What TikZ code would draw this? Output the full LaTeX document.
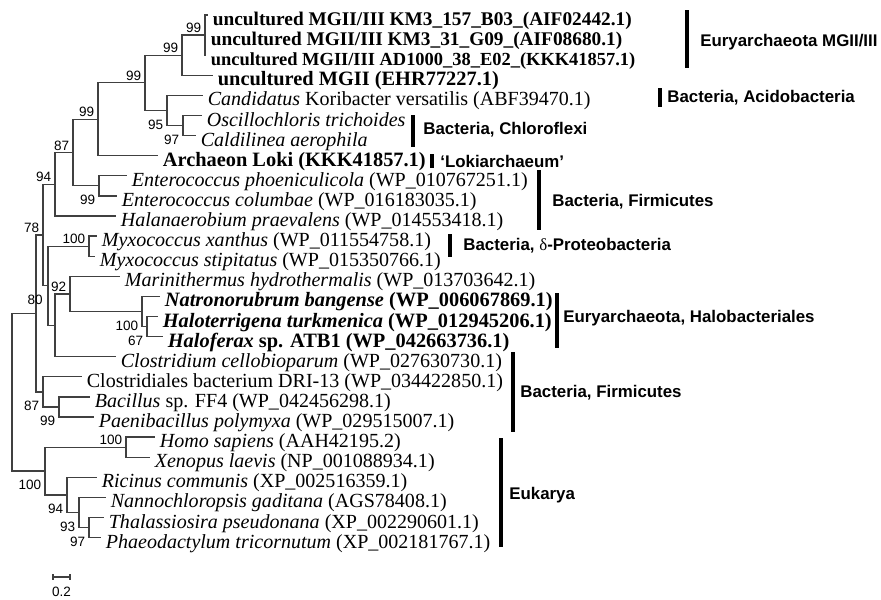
\documentclass[tikz,border=0pt]{standalone}
\usepackage{fontspec}
\setmainfont{Liberation Serif}
\setsansfont{Liberation Sans}

\tikzset{
  branch/.style={draw=black!75, line width=0.7pt},
  leaf/.style={anchor=base west, inner sep=0pt, xshift=0.09cm, yshift=-0.21cm, font=\fontsize{11.4}{13}\selectfont},
  bleaf/.style={leaf, font=\fontsize{11.6}{13}\selectfont\bfseries},
  num/.style={inner sep=0pt, font=\sffamily\fontsize{7.7}{9}\selectfont},
  bsa/.style={num, anchor=south east, xshift=-0.07cm, yshift=0.04cm},
  bsb/.style={num, anchor=north east, xshift=-0.07cm, yshift=-0.18cm},
  group/.style={anchor=west, inner sep=0pt, font=\sffamily\bfseries\fontsize{9.6}{11}\selectfont},
  bar/.style={line width=2pt}
}

\begin{document}
\begin{tikzpicture}[x=0.02cm, y=-0.02cm]
    \path[fill=white] (0,0) rectangle (881,599);
    \useasboundingbox (0,0) rectangle (881,599);
    \foreach \i/\x in {1/208, 2/206, 3/206, 4/213, 5/203, 6/202, 7/196, 8/158, 9/127, 10/117, 11/116, 12/97, 13/95, 14/120, 15/160, 16/158, 17/163, 18/116, 19/82, 20/90, 21/94, 22/155, 23/150, 24/97, 25/106, 26/104, 27/101} {\coordinate (t\i) at (\x,{15+(\i-1)*20.1});}
    \foreach \n/\x/\y in {n1/205/35.1, n2/182/55.2, n3/145/82.85, n4/167/110.5, n5/183/125.55, n6/98/119.3, n7/73/152.6, n8/99/185.85, n9/55/184.3, n10/43/235, n11/48/285.7, n12/89/246.15, n13/55/325.3, n14/70/293.9, n15/142/311.5, n16/147/326.55, n17/36/313.45, n18/43/391.9, n19/59/406.95, n20/12/392.2, n21/45/471, n22/126/447.15, n23/67/494.9, n24/79/512.5, n25/89/527.55} {\coordinate (\n) at (\x,\y);}
    \foreach \p/\c in {n1/t1, n1/t2, n1/t3, n2/n1, n2/t4, n3/n2, n3/n4, n4/t5, n4/n5, n5/t6, n5/t7, n6/n3, n6/t8, n7/n6, n7/n8, n8/t9, n8/t10, n9/n7, n9/t11, n10/n9, n10/n11, n11/n12, n11/n13, n12/t12, n12/t13, n13/n14, n13/t18, n14/t14, n14/n15, n15/t15, n15/n16, n16/t16, n16/t17, n17/n10, n17/n18, n18/t19, n18/n19, n19/t20, n19/t21, n20/n17, n20/n21, n21/n22, n21/n23, n22/t22, n22/t23, n23/t24, n23/n24, n24/t25, n24/n25, n25/t26, n25/t27} {\draw[branch] (\p) |- (\c);}
    \foreach \n/\v in {n1/99, n2/99, n3/99, n6/99, n7/87, n9/94, n10/78, n12/100, n14/92, n22/100} {\node[bsa] (b\n) at (\n) {\v};}
    \foreach \n/\v in {n4/95, n5/97, n8/99, n15/100, n16/67, n18/87, n19/99, n21/100, n23/94, n24/93, n25/97} {\node[bsb] (b\n) at (\n) {\v};}
    \node[num, anchor=south east] (bn17) at ([xshift=0.14cm, yshift=0.16cm]n17) {80};
    \node[bleaf, font=\fontsize{11}{13}\selectfont\bfseries] (l1) at (t1) {uncultured MGII/III KM3\_157\_B03\_(AIF02442.1)};
    \node[bleaf, font=\fontsize{11}{13}\selectfont\bfseries] (l2) at (t2) {uncultured MGII/III KM3\_31\_G09\_(AIF08680.1)};
    \node[bleaf, font=\fontsize{10.5}{13}\selectfont\bfseries] (l3) at (t3) {uncultured MGII/III AD1000\_38\_E02\_(KKK41857.1)};
    \node[bleaf] (l4) at (t4) {uncultured MGII (EHR77227.1)};
    \node[leaf] (l5) at (t5) {\textit{Candidatus} Koribacter versatilis (ABF39470.1)};
    \node[leaf] (l6) at (t6) {\textit{Oscillochloris trichoides}};
    \node[leaf] (l7) at (t7) {\textit{Caldilinea aerophila}};
    \node[bleaf] (l8) at (t8) {Archaeon Loki (KKK41857.1)};
    \node[leaf] (l9) at (t9) {\textit{Enterococcus phoeniculicola} (WP\_010767251.1)};
    \node[leaf] (l10) at (t10) {\textit{Enterococcus columbae} (WP\_016183035.1)};
    \node[leaf] (l11) at (t11) {\textit{Halanaerobium praevalens} (WP\_014553418.1)};
    \node[leaf] (l12) at (t12) {\textit{Myxococcus xanthus} (WP\_011554758.1)};
    \node[leaf] (l13) at (t13) {\textit{Myxococcus stipitatus} (WP\_015350766.1)};
    \node[leaf] (l14) at (t14) {\textit{Marinithermus hydrothermalis} (WP\_013703642.1)};
    \node[bleaf] (l15) at (t15) {\textit{Natronorubrum bangense} (WP\_006067869.1)};
    \node[bleaf] (l16) at (t16) {\textit{Haloterrigena turkmenica} (WP\_012945206.1)};
    \node[bleaf] (l17) at (t17) {\textit{Haloferax} sp. ATB1 (WP\_042663736.1)};
    \node[leaf] (l18) at (t18) {\textit{Clostridium cellobioparum} (WP\_027630730.1)};
    \node[leaf] (l19) at (t19) {Clostridiales bacterium DRI-13 (WP\_034422850.1)};
    \node[leaf] (l20) at (t20) {\textit{Bacillus} sp. FF4 (WP\_042456298.1)};
    \node[leaf] (l21) at (t21) {\textit{Paenibacillus polymyxa} (WP\_029515007.1)};
    \node[leaf] (l22) at (t22) {\textit{Homo sapiens} (AAH42195.2)};
    \node[leaf] (l23) at (t23) {\textit{Xenopus laevis} (NP\_001088934.1)};
    \node[leaf] (l24) at (t24) {\textit{Ricinus communis} (XP\_002516359.1)};
    \node[leaf] (l25) at (t25) {\textit{Nannochloropsis gaditana} (AGS78408.1)};
    \node[leaf] (l26) at (t26) {\textit{Thalassiosira pseudonana} (XP\_002290601.1)};
    \node[leaf] (l27) at (t27) {\textit{Phaeodactylum tricornutum} (XP\_002181767.1)};
    \foreach \x/\a/\b/\l/\m/\t [count=\k] in {687/10/68/700/42/{Euryarchaeota MGII/III}, 660/88/107/667/98/{Bacteria, Acidobacteria}, 413/115/147/423/130/{Bacteria, Chloroflexi}, 432/154/168/440/161/{‘Lokiarchaeum’}, 539/170/230/552/202/{Bacteria, Firmicutes}, 450/234/257/463/246/{Bacteria, {\rmfamily\mdseries δ}-Proteobacteria}, 557/293/348/563/318/{Euryarchaeota, Halobacteriales}, 513/352/432/520/393/{Bacteria, Firmicutes}, 501/438/547/509/495/{Eukarya}} {\draw[bar] (\x,\a) -- (\x,\b); \node[group] (g\k) at (\l,\m) {\t};}
    \coordinate (sb1) at (53,577);
    \coordinate (sb2) at (70,577);
    \draw[branch] (sb1) -- (sb2);
    \foreach \s in {sb1, sb2} {\draw[branch] ([yshift=0.06cm]\s) -- ([yshift=-0.06cm]\s);}
    \node[num, anchor=north] (sbl) at (61.5,587) {0.2};
\end{tikzpicture}
\end{document}
